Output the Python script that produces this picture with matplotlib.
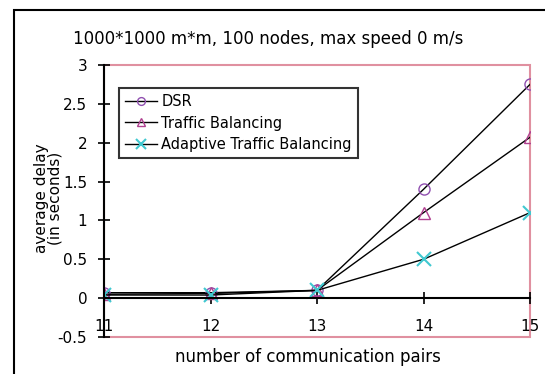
import matplotlib.pyplot as plt
from matplotlib.patches import Rectangle

pairs = [11, 12, 13, 14, 15]
dsr = [0.07, 0.07, 0.10, 1.40, 2.75]
traffic = [0.05, 0.06, 0.10, 1.10, 2.07]
adaptive = [0.04, 0.04, 0.10, 0.50, 1.10]
yticks = [-0.5, 0, 0.5, 1, 1.5, 2, 2.5, 3]

plt.rcParams['font.family'] = ['DejaVu Sans']

fig = plt.figure(figsize=(5.45, 3.74), dpi=100)
ax = fig.add_axes([104/545, 37/374, 426/545, 272/374])

ax.plot(pairs, dsr, color='black', lw=1, marker='o', ms=8, mfc='none',
        mec='#9050b0', label='DSR')
ax.plot(pairs, traffic, color='black', lw=1, marker='^', ms=8, mfc='none',
        mec='#b04090', label='Traffic Balancing')
ax.plot(pairs, adaptive, color='black', lw=1, marker='x', ms=10, mew=1.5,
        mec='#40c8d0', label='Adaptive Traffic Balancing')

ax.set_xlim(11, 15)
ax.set_ylim(-0.5, 3)
ax.set_xticks(pairs)
ax.set_yticks(yticks)
ax.set_yticklabels(['-0.5', '0', '0.5', '1', '1.5', '2', '2.5', '3'])
ax.spines['bottom'].set_position(('data', 0))
for s in ['top', 'right']:
    ax.spines[s].set_visible(False)
ax.spines['left'].set_linewidth(1.5)
ax.spines['bottom'].set_linewidth(1.5)
ax.tick_params(axis='both', direction='inout', length=8, width=1.2, labelsize=11)
ax.tick_params(axis='x', pad=11)
ax.tick_params(axis='y', pad=8)
ax.add_patch(Rectangle((0, 0), 1, 1, transform=ax.transAxes, fill=False,
                       edgecolor='#e090a0', lw=1.5, clip_on=False, zorder=0))

leg = ax.legend(loc='upper left', bbox_to_anchor=(0.035, 0.915), fontsize=10.5,
                frameon=True, fancybox=False, edgecolor='black',
                borderaxespad=0, borderpad=0.4, labelspacing=0.45,
                handlelength=2.2, handletextpad=0.3, markerscale=0.7)
leg.get_frame().set_linewidth(1.5)

fig.text(0.492, 0.897, '1000*1000 m*m, 100 nodes, max speed 0 m/s',
         ha='center', va='center', fontsize=12)
fig.text(0.565, 0.045, 'number of communication pairs',
         ha='center', va='center', fontsize=12)
fig.text(0.088, 0.47, 'average delay\n(in seconds)', rotation=90,
         ha='center', va='center', fontsize=11, linespacing=0.9)

fig.add_artist(Rectangle((14/545, -0.1), 1.0, (374 - 10)/374 + 0.1,
                         transform=fig.transFigure, fill=False,
                         edgecolor='black', lw=1.5))

fig.savefig('out.png', dpi=100)
